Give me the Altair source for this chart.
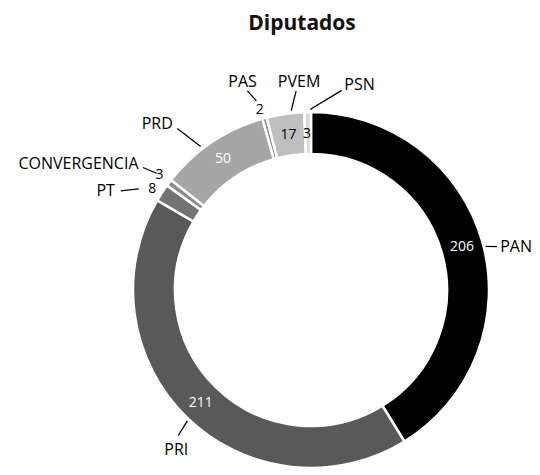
import altair as alt
import pandas as pd

# ---- data ----
parties = ["PAN", "PRI", "PT", "CONVERGENCIA", "PRD", "PAS", "PVEM", "PSN"]
seats = [206, 211, 8, 3, 50, 2, 17, 3]

# ---- styling / layout (not data) ----
colors = ["#000000", "#595959", "#737373", "#8c8c8c", "#a6a6a6", "#8c8c8c", "#bfbfbf", "#d9d9d9"]
value_colors = ["white", "white", "black", "black", "white", "black", "black", "black"]
value_radius = [157, 158, 188, 190, 158, 187, 157, 156]
value_shift = [0, 0, -0.8, 0, 0, -0.8, 0, -0.4]
line_r1 = [180, 180, 199.7, 193.6, 181, 196.8, 180.5, 180.5]
line_a1 = [1.8, -0.9, -2.7, 0, -3.7, -1.0, 2.0, 0.8]
line_r2 = [191, 197, 214.5, 208, 209.6, 209, 199.6, 202]
line_a2 = [2.7, -1.9, -5.6, -1.0, -5.8, -2.6, 4.0, 9.8]
label_r = [194, 208.8, 219.8, 213.4, 226.6, 219, 208.3, 210.7]
label_a = [3.0, -4.1, -6.3, -1.0, -8.9, -3.1, 5.0, 14.4]
label_align = ["left", "center", "right", "right", "center", "center", "center", "center"]

CX, CY = 303, 242
FONT = "Open Sans"

df = pd.DataFrame({
    "party": parties,
    "seats": seats,
    "idx": list(range(len(parties))),
    "vcol": value_colors,
    "vr": value_radius,
    "vs": value_shift,
    "r1": line_r1,
    "a1": line_a1,
    "r2": line_r2,
    "a2": line_a2,
    "lr": label_r,
    "la": label_a,
    "align": label_align,
})

base = alt.Chart(df)

arcs = base.mark_arc(innerRadius=136, outerRadius=178, stroke="white", strokeWidth=2.5).encode(
    theta=alt.Theta("seats:Q", stack=True),
    order=alt.Order("idx:Q", sort="ascending"),
    color=alt.Color("party:N", scale=alt.Scale(domain=parties, range=colors), legend=None),
    x=alt.value(CX),
    y=alt.value(CY),
)

geo = base.transform_joinaggregate(
    total="sum(seats)"
).transform_window(
    cum="sum(seats)", sort=[alt.SortField("idx", order="ascending")], frame=[None, 0]
).transform_calculate(
    mid="(datum.cum - datum.seats/2) / datum.total * 360"
).transform_calculate(
    vx=f"{CX} + datum.vr * sin((datum.mid + datum.vs) * PI / 180)",
    vy=f"{CY} - datum.vr * cos((datum.mid + datum.vs) * PI / 180)",
    x1=f"{CX} + datum.r1 * sin((datum.mid + datum.a1) * PI / 180)",
    y1=f"{CY} - datum.r1 * cos((datum.mid + datum.a1) * PI / 180)",
    x2=f"{CX} + datum.r2 * sin((datum.mid + datum.a2) * PI / 180)",
    y2=f"{CY} - datum.r2 * cos((datum.mid + datum.a2) * PI / 180)",
    lx=f"{CX} + datum.lr * sin((datum.mid + datum.la) * PI / 180)",
    ly=f"{CY} - datum.lr * cos((datum.mid + datum.la) * PI / 180)",
)

values = geo.mark_text(font=FONT, fontSize=14, baseline="middle", align="center").encode(
    x=alt.X("vx:Q", scale=None),
    y=alt.Y("vy:Q", scale=None),
    text=alt.Text("seats:Q"),
    color=alt.Color("vcol:N", scale=None),
)

lines = geo.mark_rule(color="black", strokeWidth=1.3).encode(
    x=alt.X("x1:Q", scale=None),
    y=alt.Y("y1:Q", scale=None),
    x2="x2:Q",
    y2="y2:Q",
)

label_layers = []
for al in ["left", "center", "right"]:
    label_layers.append(
        geo.transform_filter(alt.datum.align == al).mark_text(
            font=FONT, fontSize=16, baseline="middle", align=al, color="black"
        ).encode(
            x=alt.X("lx:Q", scale=None),
            y=alt.Y("ly:Q", scale=None),
            text="party:N",
        )
    )

chart = alt.layer(arcs, lines, values, *label_layers).properties(
    width=524,
    height=419,
    title=alt.Title("Diputados", font=FONT, fontSize=21, fontWeight="bold", color="#111111",
                    anchor="middle", dx=32, offset=14),
    autosize="none",
    padding={"left": 0, "top": 40, "right": 0, "bottom": 0},
).configure_view(stroke=None)

chart.save("out.html", embed_options={"renderer": "svg", "actions": False})
